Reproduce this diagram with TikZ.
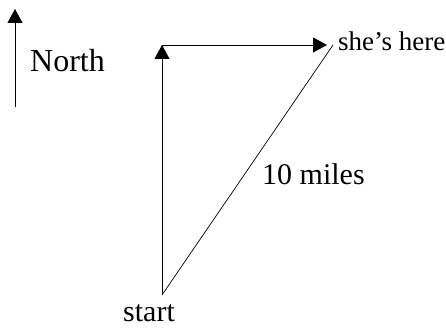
\documentclass[tikz,border=0pt]{standalone}
\usepackage{fontspec}
\setmainfont{Liberation Serif}
\usepackage{tikz}
\usetikzlibrary{arrows.meta,positioning}

\begin{document}
\begin{tikzpicture}[x=1pt,y=1pt,
  vec/.style={line width=0.9pt,-{Triangle[length=14pt,width=15pt]}},
  lbl/.style={inner sep=0pt,anchor=base west,font=\fontsize{30}{35}\selectfont}]
\useasboundingbox (0,0) rectangle (446,328);
% compass
\coordinate (south) at (15,221);
\coordinate (north) at (15,319);
\draw[vec] (south) -- (north);
\node[lbl,font=\fontsize{32}{37}\selectfont] (northlbl) at (30,256) {North};
% route
\coordinate (start) at (162,33);
\coordinate (corner) at (162,283);
\coordinate (here) at (333,283);
\draw[vec] (start) -- (corner);
\draw[vec,shorten >=6pt] (corner) -- (here);
\draw[line width=0.7pt] (start) -- (here);
\node[lbl,font=\fontsize{27}{31}\selectfont] (herelbl) at (338,277) {she’s here};
\node[lbl] (dist) at (262,143) {10 miles};
\node[lbl] (startlbl) at (123,6) {start};
\end{tikzpicture}
\end{document}
